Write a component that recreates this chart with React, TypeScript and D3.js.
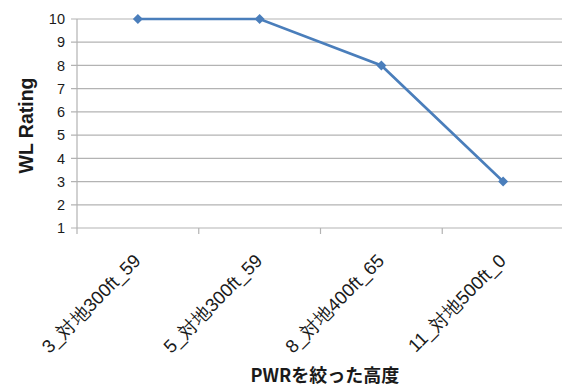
import React from "react";
import * as d3 from "d3";

const categories = ["3_対地300ft_59", "5_対地300ft_59", "8_対地400ft_65", "11_対地500ft_0"];
const ratings = [10, 10, 8, 3];
const yTicks = [1, 2, 3, 4, 5, 6, 7, 8, 9, 10];
const xTitle = "PWRを絞った高度";
const yTitle = "WL Rating";

const W = 562;
const H = 387;
const left = 77;
const right = 564;
const top = 19;
const bottom = 228;

export default function App() {
  const x = d3.scaleBand<string>().domain(categories).range([left, right]);
  const y = d3.scaleLinear().domain([1, 10]).range([bottom, top]);
  const cx = (c: string) => (x(c) ?? 0) + x.bandwidth() / 2;
  const line = d3
    .line<number>()
    .x((_, i) => cx(categories[i]))
    .y((d) => y(d));
  const r = 5;
  const diamond = `M0,${-r}L${r},0L0,${r}L${-r},0Z`;
  const font = "'Liberation Sans', Arial, sans-serif";

  return (
    <svg
      width={W}
      height={H}
      style={{ position: "absolute", left: 0, top: 0, background: "#fff" }}
    >
      {yTicks.map((t) => (
        <g key={t}>
          <line x1={left - 6} x2={W} y1={y(t)} y2={y(t)} stroke="#b3b3b3" strokeWidth={1.2} />
          <text
            x={left - 12}
            y={y(t)}
            dy="0.36em"
            textAnchor="end"
            fontFamily={font}
            fontSize={14.5}
            fill="#1a1a1a"
          >
            {t}
          </text>
        </g>
      ))}
      <line x1={left} x2={left} y1={top} y2={bottom + 6} stroke="#b3b3b3" strokeWidth={1.2} />
      {categories.map((c, i) => (
        <line
          key={"tk" + i}
          x1={(x(c) ?? 0) + x.bandwidth()}
          x2={(x(c) ?? 0) + x.bandwidth()}
          y1={bottom}
          y2={bottom + 6}
          stroke="#b3b3b3"
          strokeWidth={1.2}
        />
      ))}
      <path d={line(ratings) ?? ""} fill="none" stroke="#4a7ebb" strokeWidth={2.6} />
      {ratings.map((v, i) => (
        <path
          key={"m" + i}
          d={diamond}
          transform={`translate(${cx(categories[i])},${y(v)})`}
          fill="#4a7ebb"
        />
      ))}
      {categories.map((c, i) => (
        <text
          key={"xl" + i}
          transform={`translate(${cx(c) + 4},${bottom + 34}) rotate(-45)`}
          textAnchor="end"
          fontFamily={font}
          fontSize={18.5}
          fill="#1a1a1a"
        >
          {c}
        </text>
      ))}
      <text
        x={325}
        y={382}
        textAnchor="middle"
        fontFamily="'Noto Sans CJK JP', 'Noto Sans', sans-serif"
        fontWeight="bold"
        fontSize={18}
        fill="#1a1a1a"
      >
        {xTitle}
      </text>
      <text
        transform={`translate(33,${(top + bottom) / 2 + 2}) rotate(-90)`}
        textAnchor="middle"
        fontFamily={font}
        fontWeight="bold"
        fontSize={19.5}
        fill="#1a1a1a"
      >
        {yTitle}
      </text>
    </svg>
  );
}
